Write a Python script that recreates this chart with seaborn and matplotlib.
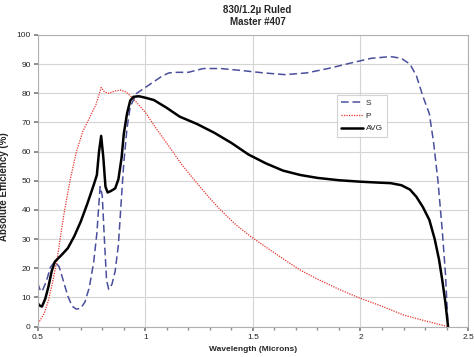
import matplotlib
matplotlib.use("Agg")
import matplotlib.pyplot as plt
import seaborn as sns
import numpy as np
from matplotlib.ticker import MultipleLocator

# S polarization (dashed)
s_x = [0.50, 0.51, 0.52, 0.54, 0.56, 0.58, 0.60, 0.62, 0.64, 0.66, 0.68, 0.70, 0.72, 0.74, 0.76, 0.775,
       0.79, 0.80, 0.81, 0.82, 0.83, 0.845, 0.86, 0.875, 0.89, 0.90, 0.915, 0.93, 0.96, 1.00, 1.04,
       1.08, 1.11, 1.15, 1.20, 1.27, 1.35, 1.45, 1.55, 1.65, 1.75, 1.85, 1.95, 2.05, 2.14,
       2.19, 2.23, 2.26, 2.29, 2.32, 2.34, 2.36, 2.38, 2.395, 2.407]
s_y = [15.0, 12.8, 12.0, 15.5, 20.5, 22.3, 20.5, 15.5, 10.5, 7.0, 6.0, 6.3, 8.5, 13.5, 22.0, 32.0,
       48.0, 45.0, 30.0, 16.0, 12.8, 14.5, 19.0, 28.0, 45.0, 56.0, 68.0, 75.4, 80.0, 82.0, 84.0,
       86.0, 87.0, 87.2, 87.2, 88.5, 88.5, 87.8, 87.0, 86.4, 87.0, 88.5, 90.3, 92.0, 92.6,
       92.0, 90.0, 86.0, 79.0, 73.0, 63.0, 50.0, 33.0, 18.0, 0.0]

# P polarization (dotted)
p_x = [0.50, 0.51, 0.53, 0.55, 0.57, 0.59, 0.62, 0.65, 0.68, 0.71, 0.74, 0.77, 0.785, 0.795,
       0.81, 0.83, 0.86, 0.885, 0.91, 0.94, 0.97, 1.00, 1.05, 1.10, 1.17, 1.24, 1.30, 1.35,
       1.42, 1.49, 1.58, 1.66, 1.72, 1.80, 1.90, 2.00, 2.10, 2.20, 2.30, 2.407]
p_y = [1.2, 2.0, 4.5, 9.0, 15.5, 23.0, 37.7, 50.0, 60.0, 67.0, 71.5, 76.0, 79.5, 82.0,
       80.5, 80.0, 80.8, 81.1, 80.5, 78.5, 76.0, 73.5, 68.0, 62.9, 55.5, 49.2, 44.0, 40.0,
       35.0, 30.9, 26.3, 22.3, 19.4, 16.3, 12.8, 9.7, 7.0, 4.0, 2.0, 0.0]

# Average (solid)
a_x = [0.50, 0.51, 0.52, 0.535, 0.55, 0.565, 0.58, 0.61, 0.64, 0.67, 0.70, 0.73, 0.76, 0.775,
       0.785, 0.795, 0.805, 0.815, 0.825, 0.84, 0.86, 0.875, 0.89, 0.90, 0.915, 0.93, 0.945,
       0.97, 1.00, 1.04, 1.10, 1.16, 1.24, 1.32, 1.40, 1.48, 1.56, 1.64, 1.72, 1.80, 1.90,
       2.00, 2.08, 2.14, 2.19, 2.23, 2.26, 2.29, 2.32, 2.345, 2.365, 2.38, 2.395, 2.407]
a_y = [8.0, 7.2, 6.9, 9.5, 13.7, 19.0, 22.3, 24.5, 26.9, 31.0, 36.0, 42.0, 48.5, 52.0,
       60.0, 65.4, 58.0, 48.0, 46.0, 46.5, 47.4, 50.5, 58.0, 66.0, 73.0, 77.5, 78.8,
       79.0, 78.5, 77.7, 75.0, 72.0, 69.5, 66.5, 63.0, 59.0, 56.0, 53.5, 52.0, 51.0, 50.2,
       49.7, 49.4, 49.2, 48.5, 47.0, 44.5, 41.0, 36.6, 30.0, 23.0, 16.0, 8.0, 0.0]

title_lines = ["830/1.2\u00b5 Ruled", "Master #407"]
x_label = "Wavelength (Microns)"
y_label = "Absolute Efficiency (%)"
x_ticks = [0.5, 1, 1.5, 2, 2.5]
x_tick_labels = ["0.5", "1", "1.5", "2", "2.5"]
y_ticks = [0, 10, 20, 30, 40, 50, 60, 70, 80, 90, 100]

sns.set_theme(style="white")
plt.rcParams["font.family"] = ["Liberation Sans", "DejaVu Sans"]

fig = plt.figure(figsize=(4.74, 3.57), dpi=100)
ax = fig.add_axes([0.0795, 0.085, 0.908, 0.817])

sns.lineplot(x=s_x, y=s_y, ax=ax, color="#4a4f9c", lw=1.1, label="S", sort=False,
             dashes=False, linestyle=(0, (5, 2.5)))
sns.lineplot(x=p_x, y=p_y, ax=ax, color="#e8352f", lw=0.9, label="P", sort=False,
             linestyle=(0, (1, 1)))
sns.lineplot(x=a_x, y=a_y, ax=ax, color="black", lw=1.8, label="AVG", sort=False)

ax.set_xlim(0.5, 2.5)
ax.set_ylim(0, 100)
ax.set_xticks(x_ticks)
ax.set_xticklabels(x_tick_labels)
ax.set_yticks(y_ticks)
ax.xaxis.set_minor_locator(MultipleLocator(0.1))
ax.grid(True, which="major", color="#d4d4d4", lw=0.8)
ax.set_axisbelow(True)
for sp in ax.spines.values():
    sp.set_color("#b0b0b0")
    sp.set_linewidth(0.8)
ax.tick_params(axis="both", which="major", labelsize=6, length=3, color="#808080",
               direction="out", pad=2, bottom=True, left=True)
ax.tick_params(axis="x", which="minor", length=2, color="#909090", bottom=True)

ax.set_xlabel(x_label, fontsize=6, fontweight="bold")
ax.xaxis.set_label_coords(0.5, -0.065)
ax.set_ylabel(y_label, fontsize=7, fontweight="bold")
ax.yaxis.set_label_coords(-0.066, 0.48)
fig.text(0.543, 0.985, title_lines[0], ha="center", va="top", fontsize=7, fontweight="bold")
fig.text(0.543, 0.953, title_lines[1], ha="center", va="top", fontsize=7, fontweight="bold")

leg = ax.legend(loc="upper left", bbox_to_anchor=(0.696, 0.795), fontsize=6,
                frameon=True, fancybox=False, handlelength=2.6, handletextpad=0.3,
                borderpad=0.5, labelspacing=0.6, borderaxespad=0)
leg.get_frame().set_edgecolor("#c8c8c8")
leg.get_frame().set_linewidth(0.8)

fig.savefig("out.png", dpi=100)
